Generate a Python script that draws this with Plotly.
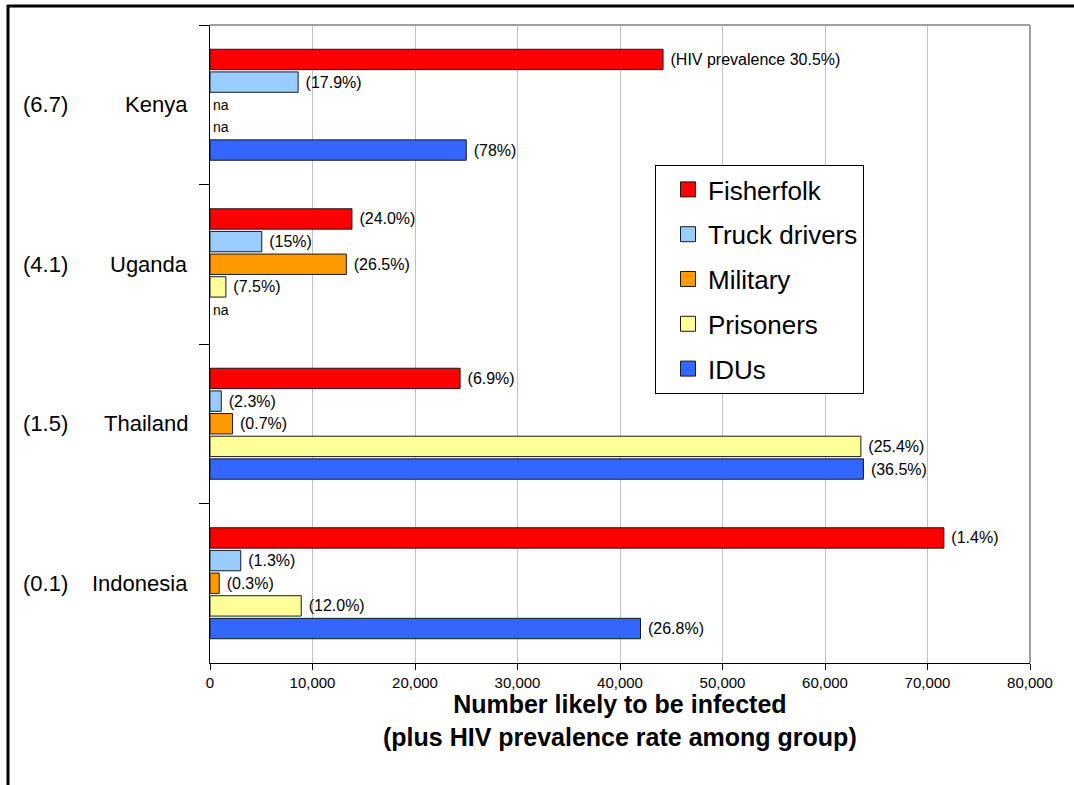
import plotly.graph_objects as go

# Countries (top to bottom) and national adult HIV prevalence (%)
countries = ["Kenya", "Uganda", "Thailand", "Indonesia"]
national_prev = ["(6.7)", "(4.1)", "(1.5)", "(0.1)"]

# Number likely to be infected in each group (None = not available)
groups = ["Fisherfolk", "Truck drivers", "Military", "Prisoners", "IDUs"]
fisherfolk = [44200, 13850, 24400, 71600]
truck_drivers = [8600, 5050, 1100, 3000]
military = [None, 13300, 2200, 900]
prisoners = [None, 1550, 63500, 8900]
idus = [25000, None, 63750, 42000]

# HIV prevalence rate among each group
fisherfolk_rate = ["(HIV prevalence 30.5%)", "(24.0%)", "(6.9%)", "(1.4%)"]
truck_rate = ["(17.9%)", "(15%)", "(2.3%)", "(1.3%)"]
military_rate = ["na", "(26.5%)", "(0.7%)", "(0.3%)"]
prisoners_rate = ["na", "(7.5%)", "(25.4%)", "(12.0%)"]
idus_rate = ["(78%)", "na", "(36.5%)", "(26.8%)"]

x_ticks = [0, 10000, 20000, 30000, 40000, 50000, 60000, 70000, 80000]

colors = ["#FF0000", "#99CCFF", "#FF9900", "#FFFF99", "#3366FF"]
series = [fisherfolk, truck_drivers, military, prisoners, idus]
rates = [fisherfolk_rate, truck_rate, military_rate, prisoners_rate, idus_rate]

FONT = "Liberation Sans, Arial, sans-serif"

# pixel -> paper helpers for the frame around the plot area
L, R, T, B = 210, 44, 25, 122
W, H = 1074, 785
PW, PH = W - L - R, H - T - B


def px(xp):
    return (xp - L) / PW


def py(yp):
    return (H - B - yp) / PH


fig = go.Figure()
for name, vals, txt, col in zip(groups, series, rates, colors):
    fig.add_trace(go.Bar(
        name=name,
        y=countries,
        x=[v if v is not None else 0 for v in vals],
        orientation="h",
        marker=dict(color=col,
                    line=dict(color="#1a1a1a",
                              width=[1 if v is not None else 0 for v in vals])),
        text=[("\u00a0" + t) if v is not None else t for t, v in zip(txt, vals)],
        textposition="outside",
        constraintext="none",
        cliponaxis=False,
        textfont=dict(family=FONT, color="black",
                      size=[16 if v is not None else 14 for v in vals]),
        showlegend=False,
        hoverinfo="skip",
    ))
    # legend entry with a larger square key
    fig.add_trace(go.Scatter(
        name=name, x=[None], y=[None], mode="markers",
        marker=dict(symbol="square", size=15, color=col,
                    line=dict(color="#1a1a1a", width=1)),
        legendgroup=name, showlegend=True, hoverinfo="skip",
    ))

annotations = []
for c, p in zip(countries, national_prev):
    annotations.append(dict(xref="paper", yref="y", x=px(190), y=c, text=c,
                            xanchor="right", yanchor="middle", showarrow=False,
                            font=dict(family=FONT, size=22, color="black")))
    annotations.append(dict(xref="paper", yref="y", x=px(70), y=c, text=p,
                            xanchor="right", yanchor="middle", showarrow=False,
                            font=dict(family=FONT, size=22, color="black")))

annotations.append(dict(
    xref="paper", yref="paper", x=0.5, y=py(688), xanchor="center", yanchor="top",
    text="<b>Number likely to be infected<br>(plus HIV prevalence rate among group)</b>",
    showarrow=False, font=dict(family=FONT, size=25, color="black")))

shapes = [
    # outer frame (top and left)
    dict(type="line", xref="paper", yref="paper", x0=px(7), x1=px(1080),
         y0=py(6), y1=py(6), line=dict(color="black", width=3)),
    dict(type="line", xref="paper", yref="paper", x0=px(8), x1=px(8),
         y0=py(5), y1=py(790), line=dict(color="black", width=3)),
    # grey plot-area border (top and right)
    dict(type="line", xref="paper", yref="paper", x0=0, x1=1, y0=1, y1=1,
         line=dict(color="#a0a0a0", width=2)),
    dict(type="line", xref="paper", yref="paper", x0=1, x1=1, y0=0, y1=1,
         line=dict(color="#a0a0a0", width=2)),
]

fig.update_layout(
    width=W, height=H,
    margin=dict(l=L, r=R, t=T, b=B),
    paper_bgcolor="white", plot_bgcolor="white",
    barmode="group", bargap=0.29, bargroupgap=0.1,
    font=dict(family=FONT, color="black"),
    showlegend=True,
    legend=dict(x=px(655), y=py(165), xanchor="left", yanchor="top",
                bordercolor="black", borderwidth=1, bgcolor="white",
                font=dict(family=FONT, size=26, color="black"),
                tracegroupgap=8, traceorder="grouped", itemsizing="trace",
                indentation=12),
    annotations=annotations,
    shapes=shapes,
)

fig.update_xaxes(range=[0, 80000], tickvals=x_ticks, tickformat=",",
                 showgrid=True, gridcolor="#c0c0c0", gridwidth=1,
                 showline=True, linecolor="black", linewidth=1,
                 ticks="outside", ticklen=6, tickcolor="black",
                 tickfont=dict(family=FONT, size=15, color="black"),
                 zeroline=False)
fig.update_yaxes(categoryorder="array", categoryarray=countries,
                 autorange="reversed", showticklabels=False,
                 showgrid=False, showline=True, linecolor="black", linewidth=1,
                 ticks="outside", tickson="boundaries", ticklen=10,
                 tickcolor="black", zeroline=False)

fig.write_html("out.html")
